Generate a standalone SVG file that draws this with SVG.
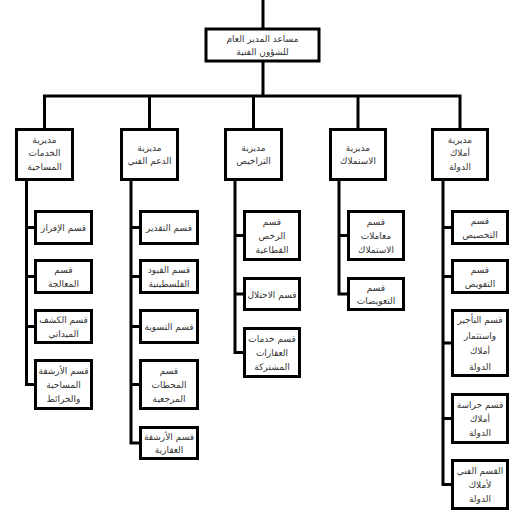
<svg xmlns="http://www.w3.org/2000/svg" width="530" height="530" viewBox="0 0 530 530">
<style>
.b{fill:#fff;stroke:#000;stroke-width:3}
.c{fill:none;stroke:#000;stroke-width:3}
text{font-family:"DejaVu Sans",sans-serif;font-size:9px;fill:#333;text-anchor:middle}
</style>
<rect width="530" height="530" fill="#fff"/>
<g id="connectors" class="c">
<path d="M263,0V29M263,61V96"/>
<path d="M44.5,129V96H460V129M149.5,96V129M253.5,96V129M358,96V129"/>
<path d="M26.5,179.5V384.5H35.5M26.5,227.5H35.5M26.5,276.5H35.5M26.5,326.5H35.5"/>
<path d="M131,179.5V443H140.5M131,227.5H140.5M131,276.5H140.5M131,326.5H140.5M131,384.5H140.5"/>
<path d="M235,179.5V352.5H244.5M235,235.5H244.5M235,294H244.5"/>
<path d="M339,179.5V294H348.5M339,235.5H348.5"/>
<path d="M443,179.5V484.5H452.5M443,227.5H452.5M443,276.5H452.5M443,343H452.5M443,418.5H452.5"/>
</g>
<g id="top"><rect class="b" x="206" y="29" width="113" height="32"/><text x="262.5" y="41.5">مساعد المدير العام</text><text x="262.5" y="54.5">للشؤون الفنية</text></g>
<g id="dir1"><rect class="b" x="16.5" y="129.5" width="56" height="50"/><text x="44.5" y="142.5">مديرية</text><text x="44.5" y="155.5">الخدمات</text><text x="44.5" y="169.5">المساحية</text></g>
<g id="dir2"><rect class="b" x="121.5" y="129.5" width="56" height="50"/><text x="149.5" y="151">مديرية</text><text x="149.5" y="164">الدعم الفني</text></g>
<g id="dir3"><rect class="b" x="225.5" y="129.5" width="56" height="50"/><text x="253.5" y="151">مديرية</text><text x="253.5" y="164">التراخيص</text></g>
<g id="dir4"><rect class="b" x="330.5" y="129.5" width="55" height="50"/><text x="358" y="151">مديرية</text><text x="358" y="164">الاستملاك</text></g>
<g id="dir5"><rect class="b" x="432.5" y="129.5" width="55" height="50"/><text x="460" y="142.5">مديرية</text><text x="460" y="155.5">أملاك</text><text x="460" y="169.5">الدولة</text></g>
<g id="c1s1"><rect class="b" x="35.5" y="211.5" width="56" height="32"/><text x="63.5" y="231">قسم الإفراز</text></g>
<g id="c1s2"><rect class="b" x="35.5" y="260.5" width="56" height="32"/><text x="63.5" y="273">قسم</text><text x="63.5" y="287">المعالجة</text></g>
<g id="c1s3"><rect class="b" x="35.5" y="310.5" width="56" height="32"/><text x="63.5" y="323">قسم الكشف</text><text x="63.5" y="337">الميداني</text></g>
<g id="c1s4"><rect class="b" x="35.5" y="360.5" width="56" height="48"/><text x="63.5" y="374">قسم الأرشفة</text><text x="63.5" y="388">المساحية</text><text x="63.5" y="402">والخرائط</text></g>
<g id="c2s1"><rect class="b" x="140.5" y="211.5" width="57" height="32"/><text x="169" y="231">قسم التقدير</text></g>
<g id="c2s2"><rect class="b" x="140.5" y="260.5" width="57" height="32"/><text x="169" y="273">قسم القيود</text><text x="169" y="287">الفلسطينية</text></g>
<g id="c2s3"><rect class="b" x="140.5" y="310.5" width="57" height="32"/><text x="169" y="330">قسم التسوية</text></g>
<g id="c2s4"><rect class="b" x="140.5" y="360.5" width="57" height="48"/><text x="169" y="374">قسم</text><text x="169" y="388">المحطات</text><text x="169" y="402">المرجعية</text></g>
<g id="c2s5"><rect class="b" x="140.5" y="427.5" width="57" height="31"/><text x="169" y="439.5">قسم الأرشفة</text><text x="169" y="453">العقارية</text></g>
<g id="c3s1"><rect class="b" x="244.5" y="211.5" width="55" height="48"/><text x="272" y="225">قسم</text><text x="272" y="239">الرخص</text><text x="272" y="253">القطاعية</text></g>
<g id="c3s2"><rect class="b" x="244.5" y="278.5" width="55" height="31"/><text x="272" y="297.5">قسم الاحتلال</text></g>
<g id="c3s3"><rect class="b" x="244.5" y="328.5" width="55" height="48"/><text x="272" y="342">قسم خدمات</text><text x="272" y="356">العقارات</text><text x="272" y="370">المشتركة</text></g>
<g id="c4s1"><rect class="b" x="348.5" y="211.5" width="55" height="48"/><text x="376" y="225">قسم</text><text x="376" y="239">معاملات</text><text x="376" y="253">الاستملاك</text></g>
<g id="c4s2"><rect class="b" x="348.5" y="278.5" width="55" height="31"/><text x="376" y="290.5">قسم</text><text x="376" y="304">التعويضات</text></g>
<g id="c5s1"><rect class="b" x="452.5" y="211.5" width="55" height="32"/><text x="480" y="224">قسم</text><text x="480" y="238">التخصيص</text></g>
<g id="c5s2"><rect class="b" x="452.5" y="260.5" width="55" height="32"/><text x="480" y="273">قسم</text><text x="480" y="287">التفويض</text></g>
<g id="c5s3"><rect class="b" x="452.5" y="310.5" width="55" height="65"/><text x="480" y="323">قسم التأجير</text><text x="480" y="339">واستثمار</text><text x="480" y="354">أملاك</text><text x="480" y="370">الدولة</text></g>
<g id="c5s4"><rect class="b" x="452.5" y="394.5" width="55" height="48"/><text x="480" y="408">قسم حراسة</text><text x="480" y="422">أملاك</text><text x="480" y="436">الدولة</text></g>
<g id="c5s5"><rect class="b" x="452.5" y="460.5" width="55" height="48"/><text x="480" y="474">القسم الفني</text><text x="480" y="488">لأملاك</text><text x="480" y="502">الدولة</text></g>
</svg>
